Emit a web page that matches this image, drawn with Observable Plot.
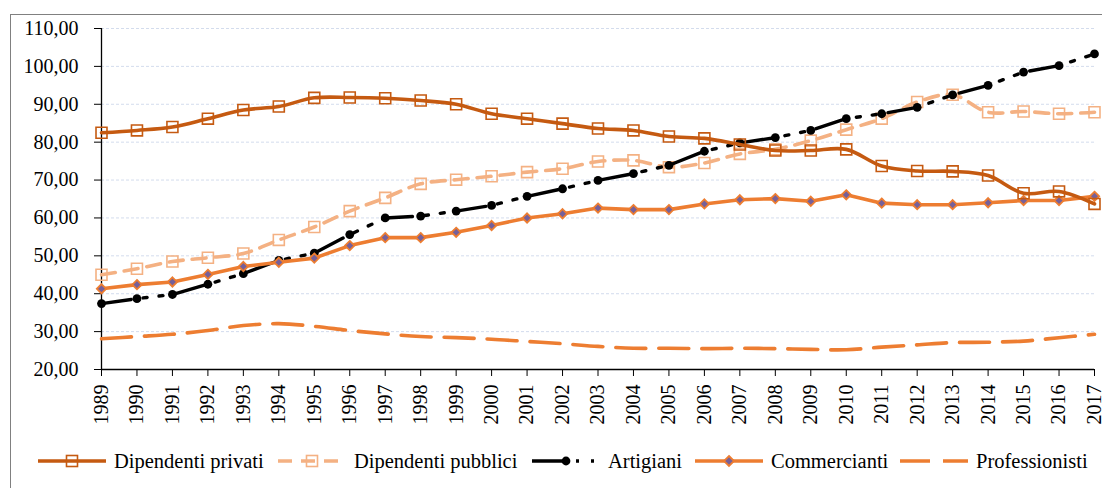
<!DOCTYPE html>
<html>
<head>
<meta charset="utf-8">
<script src="https://cdn.jsdelivr.net/npm/d3@7"></script>
<script src="https://cdn.jsdelivr.net/npm/@observablehq/plot@0.6"></script>
<style>
  html, body { margin: 0; padding: 0; background: #fff; }
  body { width: 1102px; height: 488px; overflow: hidden; position: relative; font-family: "Liberation Serif", "Times New Roman", serif; }
  #frame { position: absolute; left: 10px; top: 14px; width: 1200px; height: 600px; border: 1.5px solid #808080; box-sizing: border-box; }
  #chart { position: absolute; left: 0; top: 0; width: 1102px; }
  #chart > svg { display: block; overflow: visible; }
  #legend { position: absolute; left: 0; top: 446px; width: 1102px; height: 30px; }
  .item { position: absolute; top: 0; display: flex; align-items: center; height: 30px; font-size: 20.5px; color: #000; white-space: nowrap; }
  .item svg { margin-right: 8px; }
</style>
</head>
<body>
<div id="frame"></div>
<div id="chart"></div>
<div id="legend"></div>
<script>
const years = [1989,1990,1991,1992,1993,1994,1995,1996,1997,1998,1999,2000,2001,2002,2003,2004,2005,2006,2007,2008,2009,2010,2011,2012,2013,2014,2015,2016,2017];
const seriesNames = ["Dipendenti privati","Dipendenti pubblici","Artigiani","Commercianti","Professionisti"];
const privati = [82.5,83.1,84.0,86.2,88.5,89.4,91.7,91.8,91.6,91.0,90.0,87.5,86.2,84.9,83.6,83.1,81.5,81.0,79.4,77.8,77.8,78.1,73.7,72.4,72.3,71.2,66.5,67.0,63.7];
const pubblici = [45.0,46.6,48.5,49.5,50.6,54.2,57.6,61.8,65.3,69.0,70.1,71.0,72.1,73.0,74.9,75.2,73.4,74.5,76.9,78.1,80.4,83.3,86.2,90.6,92.5,87.9,88.1,87.5,87.9];
const artigiani = [37.4,38.7,39.8,42.5,45.3,48.8,50.7,55.6,60.0,60.5,61.8,63.3,65.7,67.7,69.9,71.7,73.9,77.6,79.8,81.2,83.1,86.2,87.5,89.2,92.5,95.0,98.5,100.2,103.3];
const commercianti = [41.3,42.4,43.1,45.1,47.2,48.3,49.4,52.7,54.8,54.8,56.2,58.0,60.0,61.1,62.6,62.2,62.2,63.7,64.8,65.1,64.4,66.1,63.9,63.5,63.5,64.0,64.6,64.6,65.7];
const professionisti = [28.1,28.7,29.3,30.3,31.6,32.1,31.4,30.3,29.4,28.7,28.4,28.0,27.4,26.8,26.1,25.6,25.6,25.5,25.6,25.5,25.3,25.2,25.9,26.5,27.1,27.2,27.5,28.4,29.3];
const yTicks = [20,30,40,50,60,70,80,90,100,110];

const values = [privati, pubblici, artigiani, commercianti, professionisti];
const rows = seriesNames.flatMap((s, i) => years.map((yr, j) => ({series: s, year: yr, value: values[i][j]})));
const sel = s => rows.filter(r => r.series === s);

const C_PRIV = "#C55A11", C_PUBB = "#F4B183", C_ART = "#000000", C_COMM = "#ED7D31", C_PROF = "#ED7D31", C_DIAM = "#76609a";
const FONT = "'Liberation Serif', 'Times New Roman', serif";
const fmt = d => d.toFixed(2).replace(".", ",");

const chart = Plot.plot({
  width: 1102,
  height: 430,
  marginLeft: 101,
  marginRight: 8,
  marginTop: 28,
  marginBottom: 61,
  style: "font-family: 'Liberation Serif', 'Times New Roman', serif; font-size: 20px; background: transparent; overflow: visible;",
  x: {domain: [1989, 2017], label: null},
  y: {domain: [20, 110], label: null},
  marks: [
    Plot.gridY(yTicks.slice(1), {stroke: "#d3dced", strokeOpacity: 1, strokeWidth: 1, strokeDasharray: "3,2"}),
    Plot.axisY(yTicks, {tickSize: 7, tickPadding: 16, tickFormat: fmt, label: null, stroke: "#000", fontSize: 20, fontFamily: FONT}),
    Plot.axisX(years, {tickSize: 7, tickPadding: 8, tickRotate: -90, tickFormat: d => String(d), label: null, stroke: "#000", fontSize: 20, fontFamily: FONT}),
    Plot.ruleX([1989], {stroke: "#000", strokeWidth: 1.3}),
    Plot.ruleY([20], {stroke: "#000", strokeWidth: 1.3}),
    Plot.line(sel("Professionisti"), {x: "year", y: "value", stroke: C_PROF, strokeWidth: 3.6, strokeDasharray: "30,13", curve: "catmull-rom"}),
    Plot.line(sel("Dipendenti pubblici"), {x: "year", y: "value", stroke: C_PUBB, strokeWidth: 3.6, strokeDasharray: "14,9", curve: "catmull-rom"}),
    Plot.dot(sel("Dipendenti pubblici"), {x: "year", y: "value", symbol: "square", r: 6.2, stroke: C_PUBB, strokeWidth: 1.6, fill: "none"}),
    Plot.line(sel("Artigiani"), {x: "year", y: "value", stroke: C_ART, strokeWidth: 3.4, strokeDasharray: "30,12,4,12,4,12"}),
    Plot.dot(sel("Artigiani"), {x: "year", y: "value", r: 4.4, fill: C_ART, stroke: "none"}),
    Plot.line(sel("Commercianti"), {x: "year", y: "value", stroke: C_COMM, strokeWidth: 3.6}),
    Plot.dot(sel("Commercianti"), {x: "year", y: "value", symbol: "diamond2", r: 4.2, fill: C_DIAM, stroke: C_COMM, strokeWidth: 1.8}),
    Plot.line(sel("Dipendenti privati"), {x: "year", y: "value", stroke: C_PRIV, strokeWidth: 3.6, curve: "catmull-rom"}),
    Plot.dot(sel("Dipendenti privati"), {x: "year", y: "value", symbol: "square", r: 6.2, stroke: C_PRIV, strokeWidth: 1.6, fill: "none"})
  ]
});
document.getElementById("chart").appendChild(chart);

// Make sure tick labels end up at the intended 20px serif size, whatever default styling applies.
try {
  const ns = "http://www.w3.org/2000/svg";
  const probeSvg = document.createElementNS(ns, "svg");
  probeSvg.setAttribute("width", "300"); probeSvg.setAttribute("height", "50");
  probeSvg.style.position = "absolute"; probeSvg.style.left = "-1000px"; probeSvg.style.top = "0";
  const probe = document.createElementNS(ns, "text");
  probe.setAttribute("font-size", "20"); probe.setAttribute("font-family", FONT);
  probe.setAttribute("y", "30");
  probe.textContent = "110,00";
  probeSvg.appendChild(probe);
  document.body.appendChild(probeSvg);
  const want = probe.getBBox().width;
  const texts = Array.from(chart.querySelectorAll("text"));
  const sample = texts.find(t => t.textContent === "110,00");
  const have = sample ? sample.getBBox().width : want;
  document.body.removeChild(probeSvg);
  const s = want / have;
  if (isFinite(s) && Math.abs(s - 1) > 0.04) {
    for (const t of texts) {
      const x = parseFloat(t.getAttribute("x") || "0");
      const y = parseFloat(t.getAttribute("y") || "0");
      const tr = t.getAttribute("transform") || "";
      t.setAttribute("transform", `${tr} translate(${x},${y}) scale(${s}) translate(${-x},${-y})`.trim());
    }
  }
} catch (e) {}

const legendSpec = [
  {name: seriesNames[0], x: 38, stroke: C_PRIV, dash: null, marker: "square", mstroke: C_PRIV, mfill: "none"},
  {name: seriesNames[1], x: 278, stroke: C_PUBB, dash: "14,9", marker: "square", mstroke: C_PUBB, mfill: "none"},
  {name: seriesNames[2], x: 532, stroke: C_ART, dash: "36,8,3,12,3,12", marker: "circle", mstroke: "none", mfill: C_ART},
  {name: seriesNames[3], x: 695, stroke: C_COMM, dash: null, marker: "diamond", mstroke: C_COMM, mfill: C_DIAM},
  {name: seriesNames[4], x: 900, stroke: C_PROF, dash: "30,13", marker: null}
];
const legend = document.getElementById("legend");
for (const it of legendSpec) {
  const div = document.createElement("div");
  div.className = "item";
  div.style.left = it.x + "px";
  const w = 68, cy = 15, mx = 34;
  let m = "";
  if (it.marker === "square") m = `<rect x="${mx-5.5}" y="${cy-5.5}" width="11" height="11" fill="${it.mfill}" stroke="${it.mstroke}" stroke-width="1.6"/>`;
  if (it.marker === "circle") m = `<circle cx="${mx}" cy="${cy}" r="4.4" fill="${it.mfill}"/>`;
  if (it.marker === "diamond") m = `<path d="M${mx},${cy-5} L${mx+5},${cy} L${mx},${cy+5} L${mx-5},${cy} Z" fill="${it.mfill}" stroke="${it.mstroke}" stroke-width="1.8"/>`;
  div.innerHTML = `<svg width="${w}" height="30"><line x1="0" y1="${cy}" x2="${w}" y2="${cy}" stroke="${it.stroke}" stroke-width="3.6" ${it.dash ? `stroke-dasharray="${it.dash}"` : ""}/>${m}</svg><span>${it.name}</span>`;
  legend.appendChild(div);
}
</script>
</body>
</html>
